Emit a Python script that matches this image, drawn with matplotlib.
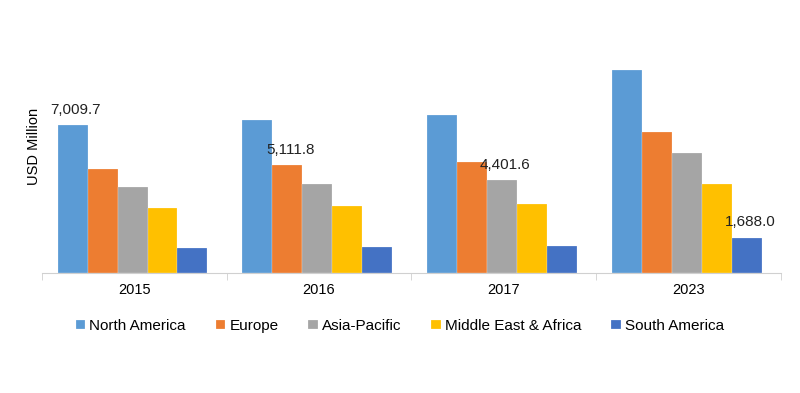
import numpy as np
from matplotlib import pyplot as plt

plt.rcParams['font.family'] = ['Liberation Sans', 'DejaVu Sans']

years = ['2015', '2016', '2017', '2023']
regions = ['North America', 'Europe', 'Asia-Pacific', 'Middle East & Africa', 'South America']
colors = ['#5B9BD5', '#ED7D31', '#A5A5A5', '#FFC000', '#4472C4']

north_america = [7009.7, 7280, 7515, 9630]
europe = [4940, 5111.8, 5257, 6678]
asia_pacific = [4073, 4230, 4401.6, 5698]
middle_east_africa = [3078, 3188, 3268, 4230]
south_america = [1200, 1247, 1294, 1688.0]
series = [north_america, europe, asia_pacific, middle_east_africa, south_america]

# which region gets a value label in each year
labelled = [0, 1, 2, 4]

fig = plt.figure(figsize=(8, 3.93), dpi=100)
ax = fig.add_axes([0.0525, 0.3046, 0.9235, 0.645])

x = np.arange(len(years))
w = 0.1624
for i, (name, vals) in enumerate(zip(regions, series)):
    ax.bar(x + (i - 2) * w - 0.01, vals, w, color=colors[i], label=name,
           edgecolor='white', linewidth=0.15)

for j, i in enumerate(labelled):
    v = series[i][j]
    ax.annotate(f'{v:,.1f}', xy=(x[j] + (i - 2) * w, v), xytext=(1, 11),
                textcoords='offset points', ha='center', va='center',
                fontsize=11, color='#222222')

ax.set_xlim(-0.5, 3.5)
ax.set_ylim(0, 12000)
ax.set_yticks([])
for s in ['top', 'right', 'left']:
    ax.spines[s].set_visible(False)
ax.spines['bottom'].set_color('#d0d0d0')
ax.set_xticks(x)
ax.set_xticklabels(years, fontsize=10.5)
ax.tick_params(axis='x', which='major', length=0, pad=7)
ax.set_xticks(np.arange(-0.5, 4, 1), minor=True)
ax.tick_params(axis='x', which='minor', length=5, color='#d0d0d0')
ax.set_ylabel('USD Million', fontsize=10.5, labelpad=1)

ax.legend(loc='center', bbox_to_anchor=(0.5, 0.171), bbox_transform=fig.transFigure,
          ncol=5, frameon=False, fontsize=11, handlelength=0.6, handleheight=0.6,
          handletextpad=0.3, columnspacing=1.95)

plt.savefig('out.png', dpi=100)
